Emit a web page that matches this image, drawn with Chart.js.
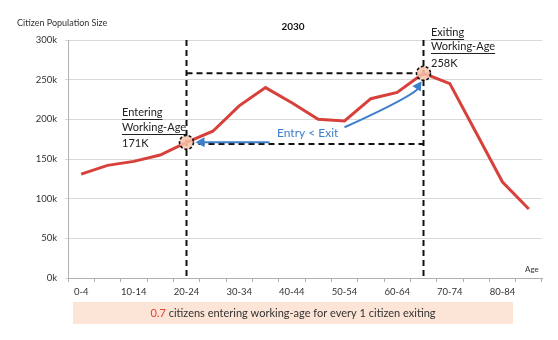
<!DOCTYPE html>
<html>
<head>
<meta charset="utf-8">
<script src="https://cdn.jsdelivr.net/npm/chart.js@4.4.1/dist/chart.umd.min.js"></script>
<style>
  html, body { margin: 0; padding: 0; background: #fff; }
  #wrap { width: 558px; height: 340px; }
</style>
</head>
<body>
<div id="wrap"><canvas id="chart" width="558" height="340"></canvas></div>
<script>
/* DATA */
const ageGroups = ["0-4","5-9","10-14","15-19","20-24","25-29","30-34","35-39","40-44",
  "45-49","50-54","55-59","60-64","65-69","70-74","75-79","80-84","85-89"];
const population = [131000,142000,147000,155000,171000,185000,217000,240000,221000,
  200000,198000,226000,234000,258000,245000,183000,121000,87000];
const yTicks = [0, 50000, 100000, 150000, 200000, 250000, 300000];

const entryIdx = 4;     // 20-24
const exitIdx = 13;     // 65-69
const entryVal = 171000;
const exitVal = 258000;
const ratio = "0.7";

const FONT = "Lato, 'Open Sans', sans-serif";

/* ANNOTATIONS */
function dashedLine(ctx, x1, y1, x2, y2) {
  ctx.save();
  ctx.strokeStyle = "#111";
  ctx.lineWidth = 2;
  ctx.setLineDash([6, 4]);
  ctx.beginPath();
  ctx.moveTo(x1, y1);
  ctx.lineTo(x2, y2);
  ctx.stroke();
  ctx.restore();
}
function arrowHead(ctx, x, y, ang, color) {
  ctx.save();
  ctx.fillStyle = color;
  ctx.translate(x, y);
  ctx.rotate(ang);
  ctx.beginPath();
  ctx.moveTo(0, 0);
  ctx.lineTo(-9, -5);
  ctx.lineTo(-9, 5);
  ctx.closePath();
  ctx.fill();
  ctx.restore();
}
function marker(ctx, x, y) {
  ctx.save();
  ctx.beginPath();
  ctx.arc(x, y, 7, 0, Math.PI * 2);
  ctx.fillStyle = "rgba(248,196,170,0.85)";
  ctx.fill();
  ctx.setLineDash([3, 2]);
  ctx.lineWidth = 1.6;
  ctx.strokeStyle = "#111";
  ctx.stroke();
  ctx.restore();
}
function underlined(ctx, text, x, y) {
  ctx.fillText(text, x, y);
  const w = ctx.measureText(text).width;
  ctx.fillRect(x, y + 7, w, 1);
}

const annotations = {
  id: "annotations",
  beforeDatasetsDraw(chart) {
    const { ctx, chartArea, scales } = chart;
    const x = scales.x, y = scales.y;
    const xe = x.getPixelForValue(entryIdx), xx = x.getPixelForValue(exitIdx);
    const ye = y.getPixelForValue(entryVal), yx = y.getPixelForValue(exitVal);
    dashedLine(ctx, xe, chartArea.top, xe, chartArea.bottom);
    dashedLine(ctx, xx, chartArea.top, xx, chartArea.bottom);
    dashedLine(ctx, xe, yx, xx - 8, yx);
    const yLow = y.getPixelForValue(169000);
    dashedLine(ctx, xe + 12, yLow, xx, yLow);
  },
  afterDatasetsDraw(chart) {
    const { ctx, chartArea, scales } = chart;
    const x = scales.x, y = scales.y;
    const xe = x.getPixelForValue(entryIdx), xx = x.getPixelForValue(exitIdx);
    const ye = y.getPixelForValue(entryVal), yx = y.getPixelForValue(exitVal);
    const blue = "#3c7fcb";

    // straight blue arrow to entry point
    ctx.save();
    ctx.strokeStyle = blue;
    ctx.lineWidth = 2;
    ctx.beginPath();
    ctx.moveTo(x.getPixelForValue(7) + 4, ye);
    ctx.lineTo(xe + 14, ye);
    ctx.stroke();
    arrowHead(ctx, xe + 9, ye, Math.PI, blue);

    // curved blue arrow to exit point
    const sx = x.getPixelForValue(10), sy = y.getPixelForValue(190000);
    const ex = xx - 2, ey = yx + 8;
    const cx = x.getPixelForValue(12) + 14, cy = y.getPixelForValue(228000);
    ctx.beginPath();
    ctx.moveTo(sx, sy);
    ctx.quadraticCurveTo(cx, cy, ex - 2, ey + 6);
    ctx.stroke();
    arrowHead(ctx, ex, ey, Math.atan2(ey - cy, ex - cx), blue);
    ctx.restore();

    marker(ctx, xe, ye);
    marker(ctx, xx, yx);

    // texts
    ctx.save();
    ctx.fillStyle = "#222";
    ctx.textBaseline = "middle";
    ctx.font = "11px " + FONT;
    underlined(ctx, "Entering", 122, 112);
    underlined(ctx, "Working-Age", 122, 127);
    ctx.fillText("171K", 122, 143);
    underlined(ctx, "Exiting", 431, 32);
    underlined(ctx, "Working-Age", 431, 46);
    ctx.fillText("258K", 431, 63);

    ctx.fillStyle = blue;
    ctx.font = "12px " + FONT;
    ctx.fillText("Entry < Exit", 277, 133);

    ctx.fillStyle = "#111";
    ctx.font = "bold 10px " + FONT;
    ctx.textAlign = "center";
    ctx.fillText("2030", 293, 27);

    ctx.textAlign = "left";
    ctx.font = "9px " + FONT;
    ctx.fillStyle = "#333";
    ctx.fillText("Citizen Population Size", 17, 23);
    ctx.font = "8px " + FONT;
    ctx.fillText("Age", 525, 269);

    // bottom note box
    ctx.fillStyle = "#fce4d6";
    ctx.fillRect(73, 302, 440, 22);
    ctx.font = "11px " + FONT;
    const rest = " citizens entering working-age for every 1 citizen exiting";
    const w1 = ctx.measureText(ratio).width, w2 = ctx.measureText(rest).width;
    let tx = 293 - (w1 + w2) / 2;
    ctx.fillStyle = "#e8412e";
    ctx.fillText(ratio, tx, 313);
    ctx.fillStyle = "#333";
    ctx.fillText(rest, tx + w1, 313);
    ctx.restore();
  }
};

/* CHART */
new Chart(document.getElementById("chart"), {
  type: "line",
  data: {
    labels: ageGroups,
    datasets: [{
      data: population,
      borderColor: "#d8413b",
      borderWidth: 3,
      pointRadius: 0,
      tension: 0,
      fill: false
    }]
  },
  options: {
    responsive: false,
    animation: false,
    layout: { padding: { left: 0, right: 16, top: 40, bottom: 32 } },
    plugins: { legend: { display: false }, tooltip: { enabled: false } },
    scales: {
      x: {
        offset: true,
        grid: { offset: true, drawOnChartArea: false, tickLength: 4, color: "#b0b0b0" },
        border: { color: "#b0b0b0" },
        afterFit: (s) => { s.height = 30; },
        ticks: {
          autoSkip: false,
          maxRotation: 0,
          color: "#333",
          font: { size: 9.5, family: FONT },
          padding: 4,
          callback: (v, i) => (i % 2 === 0 ? ageGroups[i] : "")
        }
      },
      y: {
        min: 0,
        max: 300000,
        afterFit: (s) => { s.width = 68; },
        afterBuildTicks: (s) => { s.ticks = yTicks.map((v) => ({ value: v })); },
        grid: { color: "#d9d9d9", tickLength: 3 },
        border: { color: "#b0b0b0" },
        ticks: {
          color: "#333",
          font: { size: 9.5, family: FONT },
          padding: 8,
          callback: (v) => v / 1000 + "k"
        }
      }
    }
  },
  plugins: [annotations]
});
</script>
</body>
</html>
